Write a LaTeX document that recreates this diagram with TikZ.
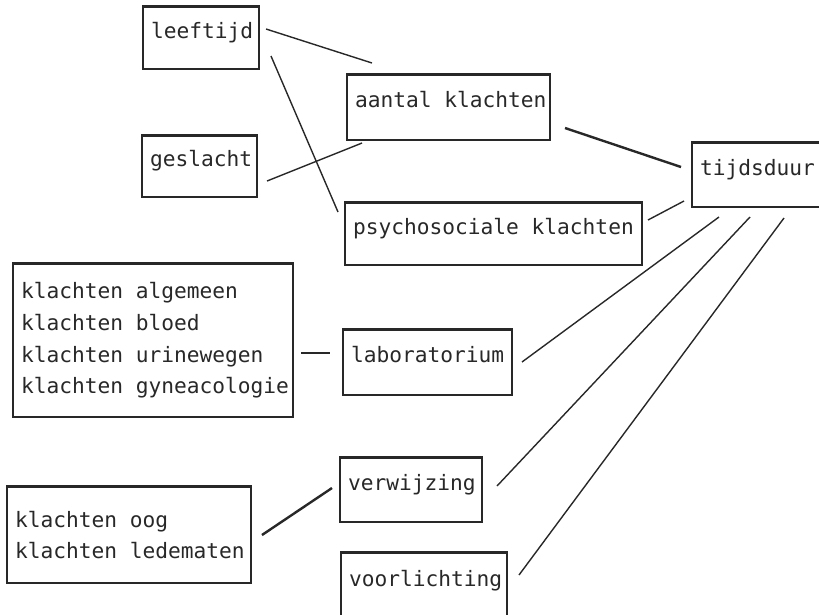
\documentclass[tikz,border=0pt]{standalone}
\usepackage{fontspec}
\setmainfont{DejaVu Sans Mono}
\definecolor{ink}{RGB}{40,40,40}
\tikzset{
  box/.style={draw=ink, line width=1.5pt, rectangle, inner ysep=0pt, align=left,
    text=ink, font=\fontsize{21.2}{31.7}\selectfont},
  onebox/.style={box, text height=15pt, text depth=15pt},
  topedge/.style={draw=ink, line width=3.4pt},
  link/.style={draw=ink, line width=1.4pt},
  boldlink/.style={draw=ink, line width=2.4pt}
}
\newcommand{\mkbox}[7]{% style, name, cx, cy, w, h, text
  \node[#1, minimum width=#5pt, minimum height=#6pt, text width=#5pt-16pt, inner xsep=8pt] (#2) at (#3,#4)
  {\spaceskip=0.602em\xspaceskip=0.602em\hbadness=10000\hfuzz=100pt\relax #7};}
\begin{document}
\begin{tikzpicture}[x=1pt,y=-1pt]
\useasboundingbox (0,0) rectangle (819,614);
\mkbox{onebox}{leeftijd}{201}{38}{116}{62}{\mbox{leeftijd}}
\mkbox{onebox}{aantal}{448.5}{107.5}{203}{65}{\mbox{aantal klachten}}
\mkbox{onebox}{geslacht}{199.5}{166.5}{115}{61}{\mbox{geslacht}}
\mkbox{onebox}{tijdsduur}{758.5}{175}{133}{64}{\mbox{tijdsduur}}
\mkbox{onebox}{psycho}{493.5}{234}{297}{62}{\mbox{psychosociale klachten}}
\mkbox{box}{multi}{153}{340.5}{280}{153}{\mbox{klachten algemeen}\\\mbox{klachten bloed}\\\mbox{klachten urinewegen}\\\mbox{klachten gyneacologie}}
\mkbox{onebox}{lab}{427.5}{362.5}{169}{65}{\mbox{laboratorium}}
\mkbox{onebox}{verw}{411}{490}{142}{64}{\mbox{verwijzing}}
\mkbox{box}{oog}{129}{535}{244}{96}{\mbox{klachten oog}\\\mbox{klachten ledematen}}
\mkbox{onebox}{voorl}{424}{586.5}{166}{67}{\mbox{voorlichting}}
\foreach \n in {leeftijd,aantal,geslacht,tijdsduur,psycho,multi,lab,verw,oog,voorl}
  \draw[topedge] (\n.north west) -- (\n.north east);
% connectors
\draw[link] ([shift={(65,-9)}]leeftijd.center) -- ([shift={(-76.5,-44.5)}]aantal.center);
\draw[link] ([shift={(70,18)}]leeftijd.center) -- ([shift={(-155.5,-22)}]psycho.center);
\draw[link] ([shift={(67.5,14.5)}]geslacht.center) -- ([shift={(-86.5,35.5)}]aantal.center);
\draw[boldlink] ([shift={(116.5,20.5)}]aantal.center) -- ([shift={(-77.5,-8)}]tijdsduur.center);
\draw[link] ([shift={(154.5,-14)}]psycho.center) -- ([shift={(-74.5,26)}]tijdsduur.center);
\draw[link] ([shift={(94.5,-0.5)}]lab.center) -- ([shift={(-39.5,42)}]tijdsduur.center);
\draw[link] ([shift={(86,-4)}]verw.center) -- ([shift={(-8.5,42)}]tijdsduur.center);
\draw[link] ([shift={(95,-11.5)}]voorl.center) -- ([shift={(25.5,43)}]tijdsduur.center);
\draw[link] ([shift={(148,12.5)}]multi.center) -- ([shift={(-97.5,-9.5)}]lab.center);
\draw[boldlink] ([shift={(133,0)}]oog.center) -- ([shift={(-79,-2)}]verw.center);
\end{tikzpicture}
\end{document}
